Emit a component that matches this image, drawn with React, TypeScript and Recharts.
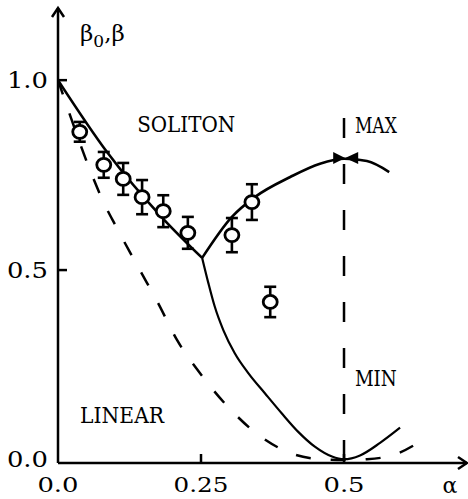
import React from 'react'
import { ComposedChart, Line, Scatter, ErrorBar, XAxis, YAxis, ReferenceDot } from 'recharts'

const FONT = '"DejaVu Serif", "Liberation Serif", serif'
const CHAR_W = 13.7

const xTicks = [0, 0.25, 0.5]
const xTickLabels = ['0.0', '0.25', '0.5']
const yTicks = [0, 0.5, 1]
const yTickLabels = ['0.0', '0.5', '1.0']

// solid curve: soliton branch from a=0 to the split point
const solitonA = [0, 0.086, 0.184, 0.252]
const solitonB = [1.0, 0.81, 0.635, 0.532]

// upper branch (MAX)
const maxA = [0.252, 0.304, 0.344, 0.406, 0.458, 0.5, 0.54, 0.579]
const maxB = [0.532, 0.64, 0.692, 0.745, 0.78, 0.793, 0.787, 0.758]

// lower branch (MIN)
const minA = [0.252, 0.263, 0.274, 0.289, 0.309, 0.333, 0.362, 0.391, 0.42, 0.449, 0.479, 0.5, 0.528, 0.563, 0.598]
const minB = [0.532, 0.465, 0.404, 0.342, 0.281, 0.228, 0.175, 0.123, 0.074, 0.035, 0.009, 0.002, 0.012, 0.045, 0.085]

// dashed curve: linear theory
const linA = [0, 0.021, 0.056, 0.082, 0.101, 0.143, 0.175, 0.208, 0.248, 0.294, 0.353, 0.416, 0.46, 0.5, 0.54, 0.586, 0.645]
const linB = [1.0, 0.908, 0.763, 0.671, 0.616, 0.5, 0.413, 0.316, 0.229, 0.145, 0.063, 0.013, 0.002, 0, 0.002, 0.013, 0.06]

// vertical dashed marker at a = 0.5
const markA = [0.5, 0.5]
const markB = [0, 0.96]

// measured points with error bars
const expA = [0.038, 0.08, 0.114, 0.147, 0.184, 0.227, 0.304, 0.339, 0.371]
const expB = [0.864, 0.777, 0.74, 0.692, 0.655, 0.598, 0.592, 0.679, 0.416]
const expErr = [0.026, 0.034, 0.042, 0.045, 0.042, 0.042, 0.045, 0.047, 0.04]

// peak marker on the upper branch
const peakA = [0.502]
const peakB = [0.795]

const notes = [
  { text: 'SOLITON', a: 0.224, b: 0.885, anchor: 'middle' },
  { text: 'MAX', a: 0.519, b: 0.882, anchor: 'start' },
  { text: 'MIN', a: 0.519, b: 0.216, anchor: 'start' },
  { text: 'LINEAR', a: 0.112, b: 0.118, anchor: 'middle' },
]

const zip = (a: number[], b: number[]) => a.map((v, i) => ({ a: v, b: b[i] }))

const soliton = zip(solitonA, solitonB)
const upper = zip(maxA, maxB)
const lower = zip(minA, minB)
const linear = zip(linA, linB)
const mark = zip(markA, markB)
const peak = zip(peakA, peakB)
const exp = expA.map((v, i) => ({ a: v, b: expB[i], e: expErr[i] }))

const XTick = (p: any) => {
  const i = xTicks.indexOf(p.payload.value)
  const label = xTickLabels[i] ?? ''
  const axisY = p.y - 22
  return (
    <g>
      {i > 0 && <line x1={p.x} x2={p.x} y1={axisY} y2={axisY - 9} stroke="#000" strokeWidth={2.5} />}
      <text x={p.x} y={p.y} textAnchor="middle" dominantBaseline="central" fontFamily={FONT} fontSize={20}
        textLength={label.length * CHAR_W} lengthAdjust="spacingAndGlyphs" fill="#000">{label}</text>
    </g>
  )
}

const YTick = (p: any) => {
  const i = yTicks.indexOf(p.payload.value)
  const label = yTickLabels[i] ?? ''
  const axisX = p.x + 10
  return (
    <g>
      {i > 0 && <line x1={axisX} x2={axisX + 9} y1={p.y} y2={p.y} stroke="#000" strokeWidth={2.5} />}
      <text x={p.x} y={p.y} textAnchor="end" dominantBaseline="central" fontFamily={FONT} fontSize={22}
        textLength={label.length * CHAR_W} lengthAdjust="spacingAndGlyphs" fill="#000">{label}</text>
    </g>
  )
}

const YTitle = (p: any) => {
  const { x, y, width } = p.viewBox
  const ax = x + width
  return (
    <g>
      <polyline points={`${ax - 6},${y + 9} ${ax},${y} ${ax + 6},${y + 9}`} fill="none" stroke="#000" strokeWidth={2.5} />
      <text x={ax + 22} y={y + 33} fontFamily={FONT} fontSize={23} fill="#000">
        β<tspan dy={6} fontSize={17}>0</tspan><tspan dy={-6}>,β</tspan>
      </text>
    </g>
  )
}

const XTitle = (p: any) => {
  const { x, y, width } = p.viewBox
  const ex = x + width
  return (
    <g>
      <polyline points={`${ex - 9},${y - 6} ${ex},${y} ${ex - 9},${y + 6}`} fill="none" stroke="#000" strokeWidth={2.5} />
      <text x={ex - 17} y={y + 22} textAnchor="middle" dominantBaseline="central" fontFamily={FONT} fontSize={22} fill="#000">α</text>
    </g>
  )
}

const Circle = (p: any) => (
  <ellipse cx={p.cx} cy={p.cy} rx={7} ry={6.5} fill="#fff" stroke="#000" strokeWidth={2.8} />
)

const Bowtie = (p: any) => {
  const { cx, cy } = p
  return (
    <g fill="#000">
      <polygon points={`${cx - 12},${cy - 6} ${cx},${cy} ${cx - 12},${cy + 6}`} />
      <polygon points={`${cx + 13},${cy - 6} ${cx},${cy} ${cx + 13},${cy + 6}`} />
    </g>
  )
}

export default function App() {
  return (
    <div style={{ position: 'absolute', left: 0, top: 0, background: '#fff' }}>
      <ComposedChart width={468} height={499} margin={{ top: 8, right: 1, bottom: 0, left: 0 }}>
        <XAxis type="number" dataKey="a" domain={[0, 0.715]} ticks={xTicks} allowDataOverflow
          height={36} tickSize={0} tickMargin={22} tickLine={false} tick={<XTick />}
          axisLine={{ stroke: '#000', strokeWidth: 2.5 }} label={<XTitle />} />
        <YAxis type="number" dataKey="b" domain={[-0.008, 1.19]} ticks={yTicks} allowDataOverflow
          width={58} tickSize={0} tickMargin={10} tickLine={false} tick={<YTick />}
          axisLine={{ stroke: '#000', strokeWidth: 2.5 }} label={<YTitle />} />

        <Line data={linear} dataKey="b" type="monotone" stroke="#000" strokeWidth={2.5}
          strokeDasharray="15 20" dot={false} isAnimationActive={false} />
        <Line data={mark} dataKey="b" type="linear" stroke="#000" strokeWidth={2.5}
          strokeDasharray="20 26" dot={false} isAnimationActive={false} />
        <Line data={soliton} dataKey="b" type="monotone" stroke="#000" strokeWidth={2.6}
          dot={false} isAnimationActive={false} />
        <Line data={upper} dataKey="b" type="monotone" stroke="#000" strokeWidth={2.6}
          dot={false} isAnimationActive={false} />
        <Line data={lower} dataKey="b" type="monotone" stroke="#000" strokeWidth={2.2}
          dot={false} isAnimationActive={false} />

        <Scatter data={exp} dataKey="b" shape={<Circle />} isAnimationActive={false}>
          <ErrorBar dataKey="e" direction="y" width={6} stroke="#000" strokeWidth={2.6} />
        </Scatter>
        <Scatter data={peak} dataKey="b" shape={<Bowtie />} isAnimationActive={false} />

        {notes.map((n) => (
          <ReferenceDot key={n.text} x={n.a} y={n.b} r={0}
            shape={(p: any) => (
              <text x={p.cx} y={p.cy} textAnchor={n.anchor} dominantBaseline="central" fontFamily={FONT}
                fontSize={23} textLength={n.text.length * 14} lengthAdjust="spacingAndGlyphs" fill="#000">{n.text}</text>
            )} />
        ))}
      </ComposedChart>
    </div>
  )
}
